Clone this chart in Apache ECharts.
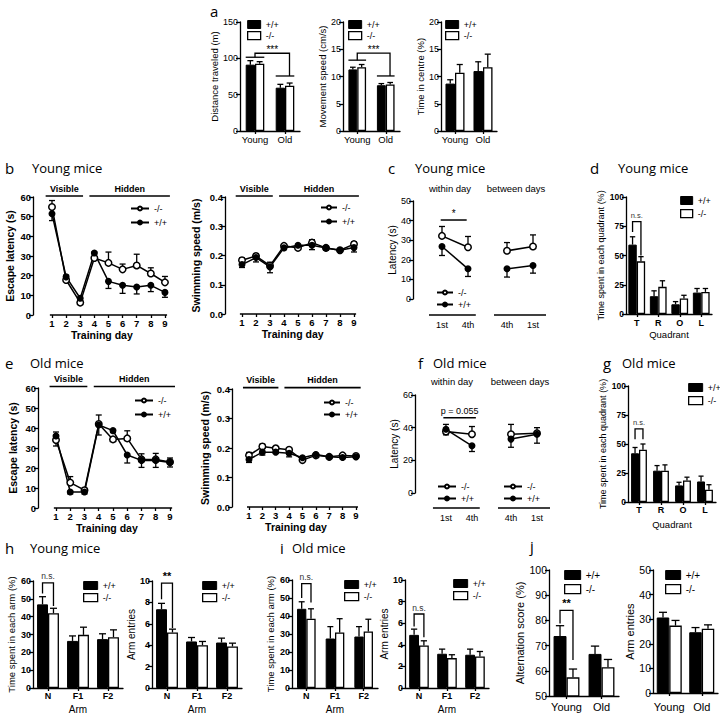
<!DOCTYPE html>
<html><head><meta charset="utf-8">
<script src="https://cdn.jsdelivr.net/npm/echarts@6/dist/echarts.min.js"></script>
<style>html,body{margin:0;padding:0;background:#fff}#c{width:720px;height:715px}</style>
</head><body><div id="c"></div>
<script>
// ================= DATA =================
const ageGroups = ['Young', 'Old'];
const distanceWT = [91.3, 59.6], distanceWTErr = [5.5, 4.6];
const distanceKO = [92.7, 62.4], distanceKOErr = [2.7, 3.6];
const speedWT = [11.3, 8.4], speedWTErr = [0.4, 0.3];
const speedKO = [11.7, 8.55], speedKOErr = [0.5, 0.35];
const centreWT = [8.7, 11.0], centreWTErr = [0.7, 1.7];
const centreKO = [10.7, 11.7], centreKOErr = [1.5, 2.4];

const trainingDays = [1, 2, 3, 4, 5, 6, 7, 8, 9];
const dayLabels = ['1', '2', '3', '4', '5', '6', '7', '8', '9'];
const phaseNames = ['Visible', 'Hidden'];
const phaseRanges = [[0.55, 3.2], [3.65, 9.35]];

const youngLatencyKO = [54.9, 17.8, 6.3, 29.0, 26.5, 23.2, 25.2, 21.1, 16.6];
const youngLatencyKOErr = [3.3, 2.5, 1.0, 3.0, 5.5, 2.7, 5.7, 2.9, 3.0];
const youngLatencyWT = [51.5, 19.4, 8.5, 31.5, 17.1, 15.1, 14.2, 15.1, 11.5];
const youngLatencyWTErr = [3.5, 2.0, 1.5, 3.0, 3.6, 4.1, 3.5, 3.2, 2.5];
const youngSwimKO = [0.184, 0.198, 0.165, 0.233, 0.226, 0.244, 0.226, 0.218, 0.239];
const youngSwimKOErr = [0.008, 0.008, 0.012, 0.005, 0.005, 0.010, 0.006, 0.005, 0.008];
const youngSwimWT = [0.169, 0.193, 0.161, 0.226, 0.235, 0.235, 0.226, 0.218, 0.227];
const youngSwimWTErr = [0.010, 0.015, 0.020, 0.006, 0.005, 0.015, 0.008, 0.005, 0.015];

const oldLatencyKO = [34.0, 12.7, 8.9, 42.0, 34.3, 34.8, 24.3, 24.3, 23.0];
const oldLatencyKOErr = [4.0, 3.0, 1.0, 4.5, 1.0, 3.8, 2.8, 3.0, 2.0];
const oldLatencyWT = [36.0, 8.0, 8.0, 41.5, 38.7, 26.5, 23.8, 23.8, 22.8];
const oldLatencyWTErr = [5.0, 1.0, 1.0, 5.0, 1.0, 4.0, 3.5, 3.5, 2.3];
const oldSwimKO = [0.175, 0.205, 0.199, 0.194, 0.159, 0.175, 0.170, 0.175, 0.173];
const oldSwimKOErr = [0.010, 0.008, 0.004, 0.006, 0.004, 0.004, 0.003, 0.003, 0.003];
const oldSwimWT = [0.161, 0.186, 0.186, 0.182, 0.167, 0.178, 0.170, 0.168, 0.170];
const oldSwimWTErr = [0.010, 0.010, 0.004, 0.012, 0.004, 0.004, 0.004, 0.004, 0.004];

const trialPos = [1, 2, 3.5, 4.5];
const trialLabels = ['1st', '4th', '4th', '1st'];
const youngTrialKO = [32.2, 26.4, 24.6, 26.8], youngTrialKOErr = [4.8, 5.5, 4.2, 5.9];
const youngTrialWT = [26.8, 15.4, 15.4, 17.1], youngTrialWTErr = [4.6, 3.9, 4.2, 3.9];
const oldTrialKO = [37.6, 36.0, 36.0, 36.6], oldTrialKOErr = [4.4, 4.7, 6.0, 3.4];
const oldTrialWT = [39.0, 28.9, 33.0, 36.0], oldTrialWTErr = [3.4, 3.5, 5.0, 5.5];

const quadrants = ['T', 'R', 'O', 'L'];
const youngQuadWT = [59.3, 15.2, 8.3, 18.3], youngQuadWTErr = [6.7, 4.6, 2.3, 3.5];
const youngQuadKO = [45.0, 23.2, 13.2, 18.9], youngQuadKOErr = [4.0, 5.2, 2.8, 2.9];
const oldQuadWT = [42.0, 27.0, 14.3, 17.7], oldQuadWTErr = [5.0, 4.4, 2.7, 4.6];
const oldQuadKO = [45.0, 27.0, 18.6, 10.6], oldQuadKOErr = [5.0, 5.0, 2.8, 4.3];

const arms = ['N', 'F1', 'F2'];
const youngArmTimeWT = [46.9, 26.4, 27.4], youngArmTimeWTErr = [4.3, 2.8, 3.0];
const youngArmTimeKO = [41.9, 29.8, 28.5], youngArmTimeKOErr = [2.8, 4.3, 4.1];
const youngArmEntWT = [7.36, 4.35, 4.25], youngArmEntWTErr = [0.55, 0.37, 0.41];
const youngArmEntKO = [5.19, 4.0, 3.88], youngArmEntKOErr = [0.31, 0.35, 0.31];
const oldArmTimeWT = [44.0, 27.5, 28.6], oldArmTimeWTErr = [3.9, 6.6, 5.5];
const oldArmTimeKO = [38.5, 30.8, 31.4], oldArmTimeKOErr = [5.5, 7.7, 6.8];
const oldArmEntWT = [4.92, 3.17, 3.08], oldArmEntWTErr = [0.53, 0.43, 0.52];
const oldArmEntKO = [3.94, 2.77, 2.92], oldArmEntKOErr = [0.43, 0.31, 0.46];

const altWT = [73.8, 66.7], altWTErr = [4.1, 3.1];
const altKO = [57.4, 61.4], altKOErr = [3.3, 3.1];
const entriesWT = [30.7, 24.7], entriesWTErr = [2.1, 1.9];
const entriesKO = [27.4, 26.1], entriesKOErr = [2.1, 1.6];

// ================= BUILDERS =================
const F = '"Liberation Sans", Arial, Helvetica, sans-serif';
const HF = '"Open Sans", "Noto Sans", sans-serif';
const K = '#000';
const opt = {animation: false, backgroundColor: '#fff', grid: [], xAxis: [], yAxis: [], series: [], legend: [], graphic: []};
const ts = (size, bold) => ({fontFamily: F, fontSize: size, fontWeight: bold ? 'bold' : 'normal', color: K});
const LW = 1.3;

function addGrid(b) { opt.grid.push({left: b[0], top: b[1], width: b[2], height: b[3]}); return opt.grid.length - 1; }
function addY(gi, c) {
  const lab = Object.assign(ts(c.fs || 9, c.bold), {margin: 2});
  if (c.fmt) lab.formatter = c.fmt;
  opt.yAxis.push({gridIndex: gi, type: 'value', min: c.min, max: c.max, interval: c.interval,
    name: c.name, nameLocation: 'middle', nameRotate: 90, nameGap: c.nameGap,
    nameTextStyle: ts(c.nfs || 10, c.nbold),
    axisLine: {show: true, onZero: false, lineStyle: {color: K, width: LW}},
    axisTick: {show: true, length: 4, lineStyle: {color: K, width: LW}},
    axisLabel: lab, splitLine: {show: false}});
  return opt.yAxis.length - 1;
}
function addXCat(gi, cats, c) {
  opt.xAxis.push({gridIndex: gi, type: 'category', data: cats, boundaryGap: true,
    axisLine: {show: true, onZero: false, lineStyle: {color: K, width: LW}},
    axisTick: {show: true, alignWithLabel: true, length: 3, lineStyle: {color: K, width: LW}},
    axisLabel: Object.assign(ts(c.fs || 9, c.bold), {margin: c.margin || 3, interval: 0}),
    name: c.name || '', nameLocation: 'middle', nameGap: c.nameGap || 15, nameTextStyle: ts(c.nfs || 10, c.nbold)});
  return opt.xAxis.length - 1;
}
function addXVal(gi, c) {
  opt.xAxis.push({gridIndex: gi, type: 'value', min: c.min, max: c.max,
    axisLine: {show: false},
    axisTick: {show: !!c.tick, length: 3, customValues: c.vals, lineStyle: {color: K, width: LW}},
    axisLabel: Object.assign(ts(c.fs || 9, c.bold), {margin: c.margin, customValues: c.vals,
      formatter: v => { const i = c.vals.indexOf(+v); return i >= 0 ? c.labels[i] : ''; }}),
    splitLine: {show: false},
    name: c.name || '', nameLocation: 'middle', nameGap: c.nameGap || 14, nameTextStyle: ts(c.nfs || 10, c.nbold)});
  return opt.xAxis.length - 1;
}
function lineStroke(x1, y1, x2, y2, w) {
  return {type: 'line', shape: {x1, y1, x2, y2}, style: {stroke: K, lineWidth: w || LW}};
}
function lineErr(xi, yi, xs, ys, es, dir) {
  return {type: 'custom', xAxisIndex: xi, yAxisIndex: yi, silent: true, z: 3, encode: {x: 0, y: 1},
    data: xs.map((x, i) => [x, ys[i], es[i]]),
    renderItem: (p, api) => {
      const x = api.value(0), y = api.value(1), e = api.value(2);
      const a = api.coord([x, y]), b = api.coord([x, y + dir * e]);
      return {type: 'group', children: [lineStroke(a[0], a[1], b[0], b[1]), lineStroke(b[0] - 3, b[1], b[0] + 3, b[1])]};
    }};
}
function lineSer(xi, yi, name, xs, ys, open) {
  return {type: 'line', name, xAxisIndex: xi, yAxisIndex: yi, data: xs.map((x, i) => [x, ys[i]]),
    symbol: 'circle', symbolSize: open ? 6.5 : 5.5, showSymbol: true, clip: false, silent: true, z: 4,
    lineStyle: {color: K, width: 1.5}, itemStyle: {color: open ? '#fff' : K, borderColor: K, borderWidth: 1.5}};
}
function segSeries(xi, yi, ranges, yv) {
  return {type: 'custom', xAxisIndex: xi, yAxisIndex: yi, silent: true, clip: false, z: 2, encode: {x: 0, y: 1},
    data: ranges.map(r => [r[0], yv, r[1]]),
    renderItem: (p, api) => {
      const a = api.coord([api.value(0), api.value(1)]), b = api.coord([api.value(2), api.value(1)]);
      return lineStroke(a[0], a[1], b[0], b[1], 1.5);
    }};
}
function phaseSeries(xi, yi, yv) {
  return {type: 'custom', xAxisIndex: xi, yAxisIndex: yi, silent: true, clip: false, z: 2, encode: {x: 0, y: 1},
    data: phaseRanges.map(r => [r[0], yv, r[1]]),
    renderItem: (p, api) => {
      const a = api.coord([api.value(0), api.value(1)]), b = api.coord([api.value(2), api.value(1)]);
      return {type: 'group', children: [lineStroke(a[0], a[1], b[0], b[1], 1.6),
        {type: 'text', style: {text: phaseNames[p.dataIndex], x: (a[0] + b[0]) / 2, y: a[1] - 3,
          align: 'center', verticalAlign: 'bottom', font: 'bold 9px ' + F, fill: K}}]};
    }};
}
function barErr(xi, yi, vals, errs, side, gap) {
  return {type: 'custom', xAxisIndex: xi, yAxisIndex: yi, silent: true, z: 3, encode: {x: 0, y: 1},
    data: vals.map((v, i) => [i, v, errs[i]]),
    renderItem: (p, api) => {
      const band = api.size([1, 0])[0], bw = band * (1 - gap) / 2;
      const a = api.coord([api.value(0), api.value(1)]);
      const b = api.coord([api.value(0), api.value(1) + api.value(2)]);
      const x = a[0] + side * bw / 2, cw = Math.max(2.5, bw * 0.32);
      return {type: 'group', children: [lineStroke(x, a[1], x, b[1]), lineStroke(x - cw, b[1], x + cw, b[1])]};
    }};
}
function barBracket(xi, yi, gap, s) {
  return {type: 'custom', xAxisIndex: xi, yAxisIndex: yi, silent: true, z: 5, clip: false, encode: {x: 0, y: 1},
    data: [[s.cat, s.top, s.left, s.right]],
    renderItem: (p, api) => {
      const band = api.size([1, 0])[0], bw = band * (1 - gap) / 2;
      const c = api.coord([api.value(0), api.value(1)]);
      const yl = api.coord([api.value(0), api.value(2)])[1], yr = api.coord([api.value(0), api.value(3)])[1];
      const xl = c[0] - bw / 2, xr = c[0] + bw / 2;
      return {type: 'group', children: [
        {type: 'polyline', shape: {points: [[xl, yl], [xl, c[1]], [xr, c[1]], [xr, yr]]}, style: {stroke: K, lineWidth: LW, fill: null}},
        {type: 'text', style: {text: s.text, x: c[0], y: c[1] - 2, align: 'center', verticalAlign: 'bottom',
          font: (s.bold ? 'bold ' : '') + (s.fs || 8) + 'px ' + F, fill: s.color || K}}]};
    }};
}
function groupBracket(xi, yi, gap, s) {
  return {type: 'custom', xAxisIndex: xi, yAxisIndex: yi, silent: true, z: 5, clip: false, encode: {x: 0, y: 1},
    data: [[0, s.top, s.leftLine, s.rightLine]],
    renderItem: (p, api) => {
      const band = api.size([1, 0])[0], bw = band * (1 - gap) / 2;
      const c0 = api.coord([0, api.value(1)]), c1 = api.coord([1, api.value(1)]);
      const yL = api.coord([0, api.value(2)])[1], yR = api.coord([1, api.value(3)])[1];
      const xR = c1[0] + 0.15 * band;
      return {type: 'group', children: [
        lineStroke(c0[0] - bw, yL, c0[0] + bw, yL),
        {type: 'polyline', shape: {points: [[c0[0], yL], [c0[0], c0[1]], [xR, c0[1]], [xR, yR]]}, style: {stroke: K, lineWidth: LW, fill: null}},
        lineStroke(c1[0] - bw, yR, c1[0] + bw, yR),
        {type: 'text', style: {text: s.text, x: (c0[0] + xR) / 2, y: c0[1] + 1, align: 'center', verticalAlign: 'bottom', font: '10px ' + F, fill: K}}]};
    }};
}
function sigLine(xi, yi, s) {
  return {type: 'custom', xAxisIndex: xi, yAxisIndex: yi, silent: true, z: 5, clip: false, encode: {x: 0, y: 1},
    data: [[s.x1, s.y, s.x2]],
    renderItem: (p, api) => {
      const a = api.coord([api.value(0), api.value(1)]), b = api.coord([api.value(2), api.value(1)]);
      return {type: 'group', children: [lineStroke(a[0], a[1], b[0], b[1], 1.5),
        {type: 'text', style: {text: s.text, x: (a[0] + b[0]) / 2, y: a[1] - 2, align: 'center', verticalAlign: 'bottom', font: (s.fs || 9) + 'px ' + F, fill: K}}]};
    }};
}
function addLegend(c) {
  const l = {left: c.left, top: c.top, orient: 'vertical', itemWidth: c.w, itemHeight: c.h, itemGap: c.gap,
    padding: 0, selectedMode: false, textStyle: Object.assign(ts(c.fs || 9), {padding: 0}),
    data: c.data, formatter: n => n.split('|')[1]};
  if (c.icon) l.icon = c.icon;
  opt.legend.push(l);
}
function barLegend(id, c) {
  addLegend(Object.assign({icon: 'rect', data: [
    {name: id + '|+/+', itemStyle: {color: K, borderColor: K, borderWidth: 1}},
    {name: id + '|-/-', itemStyle: {color: '#fff', borderColor: K, borderWidth: 1.3}}]}, c));
}
function gtext(x, y, s, font, align) {
  opt.graphic.push({type: 'text', x, y, silent: true,
    style: {text: s, font, fill: K, align: align || 'left', verticalAlign: 'middle'}});
}

function barPanel(c) {
  const gi = addGrid(c.box);
  const xi = addXCat(gi, c.cats, c.x);
  const yi = addY(gi, c.y);
  const g = Math.round(c.gap * 100) + '%';
  opt.series.push({type: 'bar', name: c.id + '|+/+', xAxisIndex: xi, yAxisIndex: yi, data: c.wt, barGap: '0%',
    barCategoryGap: g, silent: true, z: 2, itemStyle: {color: K, borderColor: K, borderWidth: 1}});
  opt.series.push({type: 'bar', name: c.id + '|-/-', xAxisIndex: xi, yAxisIndex: yi, data: c.ko, barGap: '0%',
    barCategoryGap: g, silent: true, z: 2, itemStyle: {color: '#fff', borderColor: K, borderWidth: 1.3}});
  opt.series.push(barErr(xi, yi, c.wt, c.wtErr, -1, c.gap));
  opt.series.push(barErr(xi, yi, c.ko, c.koErr, 1, c.gap));
  if (c.bracket) opt.series.push(barBracket(xi, yi, c.gap, c.bracket));
  if (c.group) opt.series.push(groupBracket(xi, yi, c.gap, c.group));
  barLegend(c.id, c.legend);
}

function dayPanel(c) {
  const gi = addGrid(c.box);
  const xi = addXVal(gi, {min: c.xmin, max: c.xmax, vals: trainingDays, labels: dayLabels, margin: 3, fs: 9.5, bold: true,
    tick: true, name: 'Training day', nameGap: 14, nfs: 10.5, nbold: true});
  const yi = addY(gi, c.y);
  opt.series.push(segSeries(xi, yi, [[trainingDays[0] - 0.15, trainingDays[trainingDays.length - 1] + 0.15]], c.y.min));
  opt.series.push(phaseSeries(xi, yi, c.y.max + (c.y.max - c.y.min) * c.phaseLift));
  opt.series.push(lineErr(xi, yi, trainingDays, c.ko, c.koErr, 1));
  opt.series.push(lineErr(xi, yi, trainingDays, c.wt, c.wtErr, -1));
  opt.series.push(lineSer(xi, yi, c.id + '|-/-', trainingDays, c.ko, true));
  opt.series.push(lineSer(xi, yi, c.id + '|+/+', trainingDays, c.wt, false));
  addLegend(Object.assign({data: [c.id + '|-/-', c.id + '|+/+']}, c.legend));
}

function trialPanel(c) {
  const gi = addGrid(c.box);
  const xi = addXVal(gi, {min: c.xmin, max: 5.1, vals: trialPos, labels: trialLabels, margin: c.margin, fs: 9});
  const yi = addY(gi, c.y);
  opt.series.push(segSeries(xi, yi, [[0.5, 2.3], [3.0, 5.0]], c.segY));
  const w = [0, 1], b = [2, 3];
  const pick = (arr, idx) => idx.map(i => arr[i]);
  opt.series.push(lineErr(xi, yi, trialPos, c.ko, c.koErr, 1));
  opt.series.push(lineErr(xi, yi, trialPos, c.wt, c.wtErr, -1));
  opt.series.push(lineSer(xi, yi, c.id + '|-/-', pick(trialPos, w), pick(c.ko, w), true));
  opt.series.push(lineSer(xi, yi, c.id + '|-/-|b', pick(trialPos, b), pick(c.ko, b), true));
  opt.series.push(lineSer(xi, yi, c.id + '|+/+', pick(trialPos, w), pick(c.wt, w), false));
  opt.series.push(lineSer(xi, yi, c.id + '|+/+|b', pick(trialPos, b), pick(c.wt, b), false));
  opt.series.push(sigLine(xi, yi, c.sig));
  c.legends.forEach((lg, k) => {
    const data = k === 0 ? [c.id + '|-/-', c.id + '|+/+'] : [c.id + '|-/-|b', c.id + '|+/+|b'];
    addLegend(Object.assign({data}, lg));
  });
}

// ================= PANELS =================
// a
const aY = (min, max, interval, name, nameGap) => ({min, max, interval, name, nameGap, fs: 9, nfs: 9.5});
const aX = {fs: 9.5, margin: 3};
const aLeg = left => ({left, top: 20, w: 13, h: 8, gap: 2, fs: 9});
barPanel({id: 'a1', box: [240, 22, 60, 109], cats: ageGroups, x: aX, y: aY(0, 150, 50, 'Distance traveled (m)', 20),
  gap: 0.38, wt: distanceWT, wtErr: distanceWTErr, ko: distanceKO, koErr: distanceKOErr,
  group: {top: 107, leftLine: 101.5, rightLine: 75.7, text: '***'}, legend: aLeg(247)});
barPanel({id: 'a2', box: [343, 22, 57, 109], cats: ageGroups, x: aX, y: aY(0, 20, 5, 'Movement speed (cm/s)', 14),
  gap: 0.38, wt: speedWT, wtErr: speedWTErr, ko: speedKO, koErr: speedKOErr,
  group: {top: 14.3, leftLine: 13.0, rightLine: 10.1, text: '***'}, legend: aLeg(348)});
barPanel({id: 'a3', box: [441, 22, 56, 109], cats: ageGroups, x: aX, y: aY(0, 20, 5, 'Time in centre (%)', 14),
  gap: 0.32, wt: centreWT, wtErr: centreWTErr, ko: centreKO, koErr: centreKOErr, legend: aLeg(445)});

// b, e
const latY = gap => ({min: 0, max: 60, interval: 10, name: 'Escape latency (s)', nameGap: gap, fs: 9.5, bold: true, nfs: 10.5, nbold: true});
const swimY = gap => ({min: 0, max: 0.4, interval: 0.1, name: 'Swimming speed (m/s)', nameGap: gap, fs: 9.5, bold: true, nfs: 10.5, nbold: true, fmt: v => v.toFixed(1)});
dayPanel({id: 'b1', box: [33, 197, 137.6, 118], xmin: -0.345, xmax: 9.4, y: latY(18), phaseLift: 0.008,
  ko: youngLatencyKO, koErr: youngLatencyKOErr, wt: youngLatencyWT, wtErr: youngLatencyWTErr,
  legend: {left: 130, top: 204, w: 18, h: 5, gap: 5}});
dayPanel({id: 'b2', box: [225, 197, 135.3, 117], xmin: -0.214, xmax: 9.45, y: swimY(24), phaseLift: 0.008,
  ko: youngSwimKO, koErr: youngSwimKOErr, wt: youngSwimWT, wtErr: youngSwimWTErr,
  legend: {left: 320, top: 203, w: 16, h: 5, gap: 5}});
dayPanel({id: 'e1', box: [38, 388, 137.7, 120], xmin: -0.263, xmax: 9.4, y: latY(20), phaseLift: 0.012,
  ko: oldLatencyKO, koErr: oldLatencyKOErr, wt: oldLatencyWT, wtErr: oldLatencyWTErr,
  legend: {left: 134, top: 396, w: 18, h: 5, gap: 5}});
dayPanel({id: 'e2', box: [232, 389, 128, 118], xmin: -0.27, xmax: 9.3, y: swimY(22), phaseLift: 0.012,
  ko: oldSwimKO, koErr: oldSwimKOErr, wt: oldSwimWT, wtErr: oldSwimWTErr,
  legend: {left: 323, top: 398, w: 16, h: 5, gap: 3}});

// c, f
trialPanel({id: 'c', box: [413, 201, 135.6, 98], xmin: -0.115, margin: 21.5, segY: -8.2,
  y: {min: 0, max: 50, interval: 10, name: 'Latency (s)', nameGap: 16, fs: 9, nfs: 10},
  ko: youngTrialKO, koErr: youngTrialKOErr, wt: youngTrialWT, wtErr: youngTrialWTErr,
  sig: {x1: 0.95, x2: 1.95, y: 40.3, text: '*', fs: 10},
  legends: [{left: 436, top: 288, w: 16, h: 5, gap: 3}]});
trialPanel({id: 'f', box: [415, 395, 137.6, 98], xmin: -0.19, margin: 20.5, segY: -9.2,
  y: {min: 0, max: 60, interval: 20, name: 'Latency (s)', nameGap: 13, fs: 9, nfs: 10},
  ko: oldTrialKO, koErr: oldTrialKOErr, wt: oldTrialWT, wtErr: oldTrialWTErr,
  sig: {x1: 0.9, x2: 2.15, y: 46, text: 'p = 0.055', fs: 9},
  legends: [{left: 437, top: 482, w: 18, h: 5, gap: 3}, {left: 503, top: 482, w: 18, h: 5, gap: 3}]});

// d, g
const quadY = gap => ({min: 0, max: 100, interval: 25, name: 'Time spent in each quadrant (%)', nameGap: gap, fs: 8.5, bold: true, nfs: 9});
barPanel({id: 'd', box: [626, 197, 86, 117], cats: quadrants, x: {fs: 9, bold: true, margin: 4, name: 'Quadrant', nameGap: 15, nfs: 9.5},
  y: quadY(14), gap: 0.22, wt: youngQuadWT, wtErr: youngQuadWTErr, ko: youngQuadKO, koErr: youngQuadKOErr,
  bracket: {cat: 0, top: 79, left: 70, right: 50, text: 'n.s.', fs: 7.5, color: '#333'},
  legend: {left: 680, top: 196, w: 12, h: 8, gap: 4, fs: 9}});
barPanel({id: 'g', box: [628, 386, 88, 116], cats: quadrants, x: {fs: 9, bold: true, margin: 3, name: 'Quadrant', nameGap: 17, nfs: 9.5},
  y: quadY(16), gap: 0.28, wt: oldQuadWT, wtErr: oldQuadWTErr, ko: oldQuadKO, koErr: oldQuadKOErr,
  bracket: {cat: 0, top: 63, left: 54, right: 54, text: 'n.s.', fs: 7.5, color: '#333'},
  legend: {left: 688, top: 383, w: 14, h: 8, gap: 4, fs: 9}});

// h, i
const armX = {fs: 9, bold: true, margin: 3, name: 'Arm', nameGap: 16, nfs: 10};
const timeY = gap => ({min: 0, max: 60, interval: 10, name: 'Time spent in each arm (%)', nameGap: gap, fs: 9, bold: true, nfs: 9.5});
const entY = gap => ({min: 0, max: 10, interval: 2, name: 'Arm entries', nameGap: gap, fs: 9, bold: true, nfs: 10});
barPanel({id: 'h1', box: [33, 581, 90, 107], cats: arms, x: armX, y: timeY(17), gap: 0.27,
  wt: youngArmTimeWT, wtErr: youngArmTimeWTErr, ko: youngArmTimeKO, koErr: youngArmTimeKOErr,
  bracket: {cat: 0, top: 59, left: 53, right: 46, text: 'n.s.', fs: 8.5, color: '#333'},
  legend: {left: 83, top: 581, w: 14, h: 8, gap: 3}});
barPanel({id: 'h2', box: [152, 581, 90, 107], cats: arms, x: armX, y: entY(14), gap: 0.27,
  wt: youngArmEntWT, wtErr: youngArmEntWTErr, ko: youngArmEntKO, koErr: youngArmEntKOErr,
  bracket: {cat: 0, top: 9.8, left: 8.3, right: 5.6, text: '**', fs: 11, bold: true},
  legend: {left: 202, top: 581, w: 14, h: 8, gap: 3}});
barPanel({id: 'i1', box: [292, 580, 86, 109], cats: arms, x: armX, y: timeY(17), gap: 0.35,
  wt: oldArmTimeWT, wtErr: oldArmTimeWTErr, ko: oldArmTimeKO, koErr: oldArmTimeKOErr,
  bracket: {cat: 0, top: 58, left: 50, right: 47.5, text: 'n.s.', fs: 8.5, color: '#333'},
  legend: {left: 344, top: 580, w: 14, h: 8, gap: 3}});
barPanel({id: 'i2', box: [405, 580, 84, 108], cats: arms, x: armX, y: entY(12), gap: 0.3,
  wt: oldArmEntWT, wtErr: oldArmEntWTErr, ko: oldArmEntKO, koErr: oldArmEntKOErr,
  bracket: {cat: 0, top: 6.85, left: 5.7, right: 4.7, text: 'n.s.', fs: 8.5, color: '#333'},
  legend: {left: 453, top: 579, w: 14, h: 8, gap: 3}});

// j
const jX = {fs: 11, margin: 5};
barPanel({id: 'j1', box: [549, 570, 70, 126], cats: ageGroups, x: jX,
  y: {min: 50, max: 100, interval: 10, name: 'Alternation score (%)', nameGap: 13, fs: 10.5, nfs: 11},
  gap: 0.26, wt: altWT, wtErr: altWTErr, ko: altKO, koErr: altKOErr,
  bracket: {cat: 0, top: 84, left: 78.8, right: 64.3, text: '**', fs: 11, bold: true},
  legend: {left: 564, top: 570, w: 16, h: 9, gap: 4, fs: 10}});
barPanel({id: 'j2', box: [653, 570, 65, 123], cats: ageGroups, x: Object.assign({}, jX, {margin: 8}),
  y: {min: 0, max: 50, interval: 10, name: 'Arm entries', nameGap: 12, fs: 10.5, nfs: 11},
  gap: 0.23, wt: entriesWT, wtErr: entriesWTErr, ko: entriesKO, koErr: entriesKOErr,
  legend: {left: 665, top: 570, w: 15, h: 9, gap: 4, fs: 10}});

// ================= HEADINGS =================
const LF = '15px ' + HF, TF = '13px ' + HF, SF = '9.5px ' + F;
gtext(210, 11, 'a', LF);
gtext(5, 168, 'b', LF); gtext(32, 168, 'Young mice', TF);
gtext(388, 168, 'c', LF); gtext(415, 168, 'Young mice', TF);
gtext(590, 168, 'd', LF); gtext(618, 168, 'Young mice', TF);
gtext(5, 363, 'e', LF); gtext(30, 363, 'Old mice', TF);
gtext(418, 363, 'f', LF); gtext(433, 363, 'Old mice', TF);
gtext(603, 363, 'g', LF); gtext(622, 363, 'Old mice', TF);
gtext(5, 548, 'h', LF); gtext(30, 548, 'Young mice', TF);
gtext(280, 548, 'i', LF); gtext(292, 548, 'Old mice', TF);
gtext(530, 546, 'j', LF);
gtext(450, 188, 'within day', SF, 'center'); gtext(516, 188, 'between days', SF, 'center');
gtext(452, 381, 'within day', SF, 'center'); gtext(520, 381, 'between days', SF, 'center');

const chart = echarts.init(document.getElementById('c'), null, {renderer: 'svg', width: 720, height: 715});
chart.setOption(opt);
</script>
</body></html>
